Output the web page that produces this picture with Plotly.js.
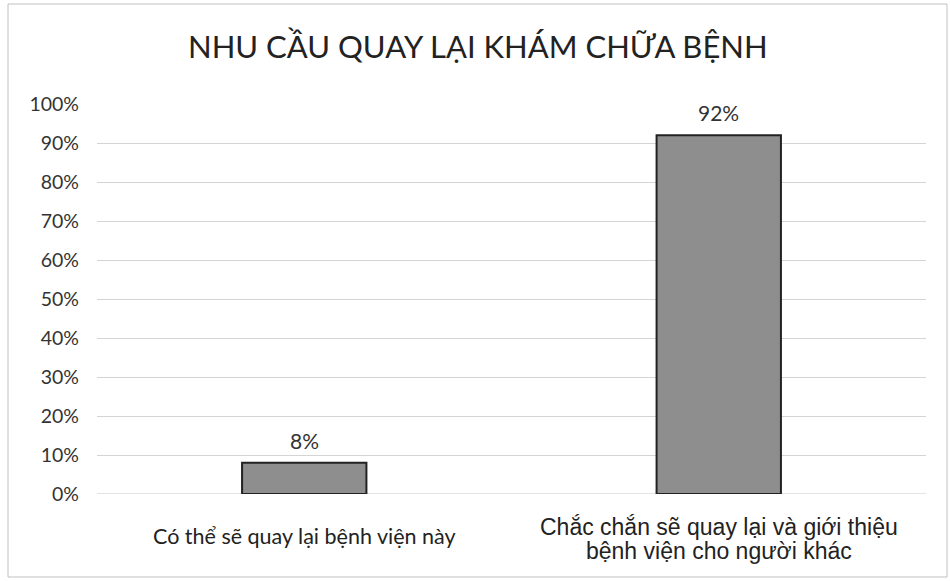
<!DOCTYPE html>
<html><head><meta charset="utf-8">
<script src="https://cdn.plot.ly/plotly-3.0.1.min.js"></script>
<style>body{margin:0;background:#fff}#chart{width:950px;height:581px}</style>
</head><body><div id="chart"></div>
<script>
const categories = ["Có thể sẽ quay lại bệnh viện này", "Chắc chắn sẽ quay lại và giới thiệu<br>bệnh viện cho người khác"];
const values = [0.08, 0.92];
const valueLabels = ["8%", "92%"];
const yTicks = [0,0.1,0.2,0.3,0.4,0.5,0.6,0.7,0.8,0.9,1.0];
const yTickText = ["0%","10%","20%","30%","40%","50%","60%","70%","80%","90%","100%"];
const title = "NHU CẦU QUAY LẠI KHÁM CHỮA BỆNH";

const W=950,H=581,L=97,R=24,T=104,B=87;
const pw=W-L-R, ph=H-T-B;

const catStyles = [
  {family:'Lato', size:21.5, firstShift:-42, lineGap:24},
  {family:'Liberation Sans', size:23, firstShift:-33, lineGap:24}
];
const annotations = [];
categories.forEach((c,i)=>{
  c.split('<br>').forEach((line,j)=>{
    annotations.push({x:i, xref:'x', y:0, yref:'paper', text:line, showarrow:false,
      xanchor:'center', yanchor:'middle', yshift:catStyles[i].firstShift - j*catStyles[i].lineGap,
      font:{family:catStyles[i].family, size:catStyles[i].size, color:'#222'}});
  });
});
values.forEach((v,i)=>{
  annotations.push({x:i, xref:'x', y:v, yref:'y', text:valueLabels[i], showarrow:false,
    xanchor:'center', yanchor:'bottom', yshift:8,
    font:{family:'Lato', size:21, color:'#333'}});
});

Plotly.newPlot('chart', [{
  type:'bar', x:[0,1], y:values, width:0.3,
  marker:{color:'#8e8e8e', line:{color:'#222', width:2}},
  hoverinfo:'none'
}], {
  width:W, height:H,
  margin:{l:L, r:R, t:T, b:B, pad:0},
  paper_bgcolor:'#fff', plot_bgcolor:'#fff',
  title:{text:title, x:0.503, xanchor:'center', y:0.919, yanchor:'middle',
    font:{family:'Lato', size:31, color:'#222'}},
  xaxis:{range:[-0.5,1.5], tickvals:[0,1], ticktext:['',''], showgrid:false, zeroline:false,
    showline:false, ticks:''},
  yaxis:{range:[0,1], tickvals:yTicks, ticktext:yTickText, showgrid:true, gridcolor:'#d4d4d4', gridwidth:1,
    zeroline:false, showline:false, ticks:'', ticklabelstandoff:17,
    tickfont:{family:'Lato', size:19.5, color:'#333'}},
  annotations:annotations,
  shapes:[{type:'line', xref:'paper', yref:'y', x0:0, x1:1, y0:0, y1:0, line:{color:'#c8c8c8', width:1}, layer:'below'},
    {type:'rect', xref:'paper', yref:'paper', x0:(8-L)/pw, x1:(947-L)/pw, y0:(T+ph-577)/ph, y1:(T+ph-4)/ph,
     line:{color:'#c0c0c0', width:1}, fillcolor:'rgba(0,0,0,0)', layer:'below'}],
  showlegend:false
}, {staticPlot:true});
</script></body></html>
